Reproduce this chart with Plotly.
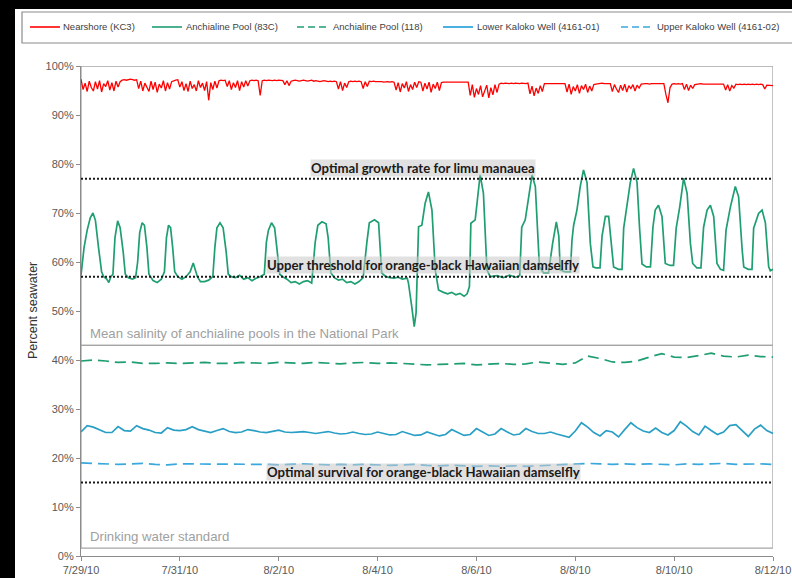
import pandas as pd
import plotly.graph_objects as go

# ---------------- data ----------------
START = pd.Timestamp("2010-07-29")

# Nearshore (KC3), hourly readings, % seawater
nearshore = [
    # 7/29
    97.3, 95.2, 96.5, 94.8, 96.9, 95.6, 94.9, 96.8, 95.3, 97.0, 94.7, 96.4,
    95.8, 97.0, 95.1, 96.6, 94.9, 96.9, 95.7, 96.8, 97.1,
    97.2, 97.1, 97.2, 97.3, 97.2, 97.1, 97.2,
    95.4, 96.9, 94.9, 96.5, 95.6, 94.8, 96.9, 95.2, 96.7, 94.6, 96.3, 95.5,
    97.0, 94.9, 96.6, 95.3, 96.8, 97.0,
    97.1, 97.2,
    # 7/31
    95.7, 96.8, 95.0, 96.4, 94.8, 96.9, 95.4, 96.2, 94.9, 97.0, 95.6, 96.5,
    95.0, 96.8, 93.0, 96.6, 95.2, 96.9, 95.5, 97.0,
    97.1, 97.0, 97.1,
    95.8, 97.0, 95.2, 96.6, 95.6, 97.0, 95.0, 96.8, 95.7, 97.0, 95.9, 97.0,
    97.1, 97.0, 97.1, 97.0,
    94.0,
    97.0, 97.1, 97.0, 97.1, 97.0, 97.0, 97.1, 97.0, 97.1, 97.0, 97.0,
    96.2, 97.0, 96.0, 96.9,
    97.0, 97.1, 97.0, 96.9, 97.0, 97.1, 97.0, 96.9, 97.0, 97.1, 96.9, 97.0,
    96.9, 96.8, 96.9, 97.0, 96.9, 96.8, 96.9, 96.8, 96.9, 96.8,
    95.3, 96.8, 95.0, 96.5, 95.6, 96.8,
    96.9, 96.8, 96.9, 96.8, 96.9, 96.8,
    95.4, 96.8, 95.8, 96.9,
    96.8, 96.9, 96.8, 96.8, 96.9, 96.8, 96.7, 96.8, 96.8, 96.7, 96.8, 96.7,
    95.1, 96.6, 94.7, 96.4, 95.5, 96.8, 94.8, 96.2, 95.2, 96.7, 95.6, 96.8,
    96.7, 94.9, 96.5, 95.3, 96.7, 94.6, 96.3, 95.4, 96.7, 95.0, 96.6, 96.7,
    96.7, 96.6, 96.7, 96.6, 96.6, 96.7, 96.6, 96.6, 96.7, 96.6, 96.6, 96.7,
    94.0, 96.2, 93.6, 95.4, 94.2, 96.0, 93.7, 94.8, 96.1, 93.5, 95.6, 94.1,
    96.2, 94.6, 96.3,
    96.5, 96.4, 96.5, 96.4, 96.4, 96.5, 96.4, 96.5, 96.4, 96.4, 96.5, 96.4,
    96.4, 96.5,
    94.3, 95.9, 93.9, 95.5, 94.4, 96.0, 94.8,
    96.4, 96.4, 96.5, 96.4, 96.4, 96.5, 96.4, 96.4, 96.5, 96.4, 96.4,
    94.7, 96.3, 94.2, 95.8, 94.9, 96.2, 94.4, 96.0, 95.2, 96.3, 94.6, 95.9,
    94.9, 96.2, 96.3,
    96.4, 96.4, 96.5, 96.4, 96.4, 96.5, 96.4,
    94.8, 96.2, 95.3, 94.6, 96.1, 95.0, 96.3, 94.7, 96.0, 95.4, 96.2, 94.9,
    96.1, 95.5, 96.3, 96.4,
    96.4, 96.4, 96.3, 96.4, 96.4, 96.3, 96.4, 96.4, 96.3, 96.4,
    94.2, 92.5, 95.6,
    96.3, 96.4, 96.3, 96.4, 96.3, 96.4,
    95.2, 96.3, 95.0, 96.1, 95.4, 96.2, 96.3,
    96.3, 96.4, 96.3, 96.3, 96.4, 96.3, 96.3, 96.4, 96.3, 96.3, 96.4, 96.3,
    96.3,
    95.1, 96.2, 94.9, 96.0, 95.5,
    96.3, 96.2, 96.3, 96.2, 96.3, 96.2, 96.3, 96.2, 96.3, 96.2, 96.3, 96.2,
    96.3, 96.2,
    95.3, 96.1,
    96.1, 96.0, 96.0,
]

# Anchialine Pool (83C): hours since 7/29/10 00:00 and % seawater
pool83c_hours = [
    0, 1.5, 3, 4.5, 5.8, 7, 8.5, 10, 11, 12.5, 13.5, 14.5, 15.5, 16.5, 17.8, 19,
    20.5, 21.5, 23, 25, 26.5, 27.5, 28.5, 29.7, 30.8, 32, 33, 35, 37, 39, 40.5,
    41.5, 42.5, 43.5, 44.5, 45.5, 47, 49, 51, 53, 54.5, 55.5, 56.5, 58, 60, 62,
    64, 65, 66, 67.5, 69, 70.5, 71.5, 73, 75, 77, 79, 81, 83, 85, 87, 89, 90,
    91, 92.5, 94, 95.5, 96.5, 98, 100, 102, 104, 106, 108, 110, 112, 113.7, 115,
    117, 119, 120, 121.3, 123, 125, 127, 129, 131, 133, 135, 137, 138.8, 140,
    142.5, 144.5, 146, 148, 150, 152, 154, 156, 158.4, 159, 160.6, 161.8, 162.7,
    163.9, 165.5, 167.1, 168.7, 170.4, 172, 173.6, 176, 178, 180, 182, 184, 186,
    187.5, 188.6, 189.3, 191.4, 193.8, 195.4, 197.1, 198.7, 202, 205, 208, 211,
    213, 214, 215.7, 219, 220.6, 222.6, 224.6, 227, 229, 230.8, 232, 232.7, 235,
    237.6, 238.4, 239.2, 240.8, 242.4, 244, 245.7, 247.3, 248.6, 250, 252, 253,
    254.6, 256.2, 257.5, 258.6, 261, 262.7, 263.5, 265.1, 266.7, 268.3, 270,
    271.2, 272.4, 274.5, 276.5, 277.7, 278.8, 280.4, 282.1, 283.7, 286, 287.7,
    289, 290.7, 292.6, 294.3, 295.9, 297, 299, 301, 302.3, 304, 305.6, 307.2,
    308.8, 310.5, 312, 313.2, 315.3, 317.7, 319.3, 321, 321.8, 324, 325.8, 326.6,
    329, 330.7, 332.3, 333.9, 334.7, 336,
]
pool83c = [
    57.3, 63, 66.5, 69, 70, 68.5, 63, 58, 57, 56.5, 55.8, 57, 57.5, 65, 68.4, 67,
    62, 57.5, 56.8, 56.5, 56.8, 60, 66, 68, 67.5, 63, 57.5, 56.2, 55.8, 56.5, 58,
    65, 67.5, 67, 63, 58, 57, 56.5, 57, 58, 59.8, 58.5, 57, 56, 56, 56.3,
    57, 63, 67, 68, 67, 62, 57.5, 57, 56.8, 57.3, 56.5, 56.8, 56.2, 56.7, 57, 57.5, 64,
    66.5, 68, 67, 62, 57.5, 57, 56.5, 55.8, 56, 55.5, 56, 56.2, 55.7, 64, 67.5,
    68.2, 67.8, 65, 57.8, 56.8, 56.3, 56.5, 55.8, 56, 55.5, 56, 56.8, 64, 68,
    68.6, 68, 57.8, 57, 56.8, 56.7, 56.9, 56.5, 56.7, 55.7, 50.9, 46.8, 49.6,
    67.2, 67.5, 72, 74.3, 70.6, 58.4, 54.3, 53.8, 53.5, 53.8, 53.3, 53.6, 53.0,
    53.5, 55, 67.9, 68.6, 77.8, 74, 58.4, 57, 57.2, 56.8, 57.3, 56.9,
    57.2, 67.1, 68.6, 77.8, 75.4, 59, 57.8, 57.8, 63.8, 68.2, 65.3, 58.4, 58,
    58, 64.5, 67.5, 70.6, 75.4, 78.8, 76.2, 63.8, 59, 58.8, 58.8, 65.3,
    69.3, 69.3, 63.8, 59, 58.5, 58.5, 66.9, 72, 76.2, 79.1, 76.2,
    67, 59.6, 59, 59, 67.1, 70.6, 71.6, 69.3, 59.7, 59.3, 59.3,
    66.9, 71.2, 77.1, 74, 63.8, 59.7, 58.8, 58.8, 67.1, 70.6, 71.6, 69.3,
    59.7, 58.5, 58.3, 66.5, 71.2, 75.4, 73.3, 62.6, 59, 58.5, 58.5, 66.9,
    69.9, 70.6, 68, 59, 58.2, 58.5,
]

# Anchialine Pool (118), 6-hourly
pool118 = [
    39.8, 40.0, 39.8, 39.5, 39.6, 39.3, 39.3, 39.4, 39.3, 39.4,
    39.5, 39.3, 39.3, 39.5, 39.4, 39.3, 39.5, 39.4, 39.3, 39.5,
    39.4, 39.2, 39.4, 39.5, 39.3, 39.4, 39.3, 39.2, 39.0, 39.1,
    39.2, 39.3, 39.0, 39.1, 39.3, 39.1, 39.2, 39.6, 39.3, 39.1,
    39.4, 40.8, 40.3, 39.6, 39.5, 39.8, 40.6, 41.3, 40.6, 40.5,
    40.9, 41.4, 40.8, 40.6, 41.0, 40.7, 40.6,
]

# Lower Kaloko Well (4161-01), 3-hourly
lower_well = [
    25.3, 26.6, 26.3, 25.8, 25.2, 25.2, 26.4, 25.6, 25.5, 26.6,
    26.0, 25.7, 25.2, 25.1, 26.2, 25.7, 25.6, 25.8, 26.4, 25.8,
    25.5, 25.2, 25.6, 26.0, 25.4, 25.2, 25.3, 25.8, 25.6, 25.3,
    25.2, 25.5, 25.7, 25.3, 25.2, 25.3, 25.4, 25.2, 25.0, 25.2,
    25.4, 25.1, 24.9, 25.0, 25.3, 25.0, 24.8, 24.9, 25.3, 25.0,
    24.7, 24.8, 25.4, 25.0, 24.6, 24.7, 25.3, 24.9, 24.5, 24.8,
    25.8, 25.2, 24.6, 24.8, 26.0, 25.3, 24.6, 24.9, 26.0, 25.3,
    24.7, 24.9, 26.0, 25.4, 25.0, 25.0, 25.3, 24.9, 24.6, 24.2,
    25.5, 27.2, 26.3, 25.2, 24.5, 25.6, 25.3, 24.3, 25.8, 27.2,
    26.2, 25.5, 25.2, 26.1, 25.2, 24.7, 25.6, 27.4, 26.5, 25.4,
    24.7, 26.5, 25.6, 24.8, 25.3, 26.6, 26.8, 25.6, 24.4, 25.9,
    26.7, 25.6, 25.0,
]

# Upper Kaloko Well (4161-02), 6-hourly
upper_well = [
    19.0, 18.9, 18.8, 18.7, 18.8, 18.9, 18.7, 18.6, 18.8, 18.8, 18.7,
    18.8, 18.7, 18.7, 18.8, 18.7, 18.6, 18.7, 18.8, 18.7, 18.6,
    18.7, 18.6, 18.7, 18.6, 18.5, 18.6, 18.7, 18.5, 18.4, 18.5,
    18.4, 18.3, 18.4, 18.3, 18.4, 18.3, 18.4, 18.5, 18.6, 18.8,
    18.9, 18.8, 18.7, 18.8, 18.7, 18.8, 18.7, 18.6, 18.8, 18.7,
    18.8, 18.9, 18.7, 18.8, 18.8, 18.7,
]

# reference levels (% seawater)
limu_optimum = 77
damselfly_upper = 57
damselfly_survival = 15
# outlines of the two reference zones (% seawater)
pool_zone = (43, 100)
drinking_zone = (1.6, 43)

y_ticks = list(range(0, 101, 10))
y_tick_text = [f"{v}%" for v in y_ticks]
tick_dates = pd.date_range("2010-07-29", "2010-08-12", freq="2D")
x_end = pd.Timestamp("2010-08-12")

# ---------------- styling ----------------
RED = "#FF0000"
GREEN = "#1F9E70"
BLUE = "#1E9BD7"
BLUE_LINE = "#2A9FC6"
BLUE_LIGHT = "#3AA8DC"
DASH = "11px,6px"

W, H = 792, 578
ML, MR, MT, MB = 81, 19, 66, 22
PW, PH = W - ML - MR, H - MT - MB


def px(x):
    return (x - ML) / PW


def py(y):
    return (H - MB - y) / PH


def series_times(n, step_h):
    return [START + pd.Timedelta(hours=step_h * i) for i in range(n)]


fig = go.Figure()

fig.add_trace(go.Scatter(
    x=series_times(len(nearshore), 1), y=nearshore, mode="lines",
    name="Nearshore (KC3)", line=dict(color=RED, width=1.3)))
fig.add_trace(go.Scatter(
    x=[START + pd.Timedelta(hours=h) for h in pool83c_hours], y=pool83c,
    mode="lines", name="Anchialine Pool (83C)",
    line=dict(color=GREEN, width=1.7)))
fig.add_trace(go.Scatter(
    x=series_times(len(pool118), 6), y=pool118, mode="lines",
    name="Anchialine Pool (118)",
    line=dict(color=GREEN, width=1.7, dash=DASH)))
fig.add_trace(go.Scatter(
    x=series_times(len(lower_well), 3), y=lower_well, mode="lines",
    name="Lower Kaloko Well (4161-01)",
    line=dict(color=BLUE_LINE, width=1.7)))
fig.add_trace(go.Scatter(
    x=series_times(len(upper_well), 6), y=upper_well, mode="lines",
    name="Upper Kaloko Well (4161-02)",
    line=dict(color=BLUE_LIGHT, width=1.7, dash=DASH)))

shapes = []
# white slide panel over the black background
shapes.append(dict(type="rect", xref="paper", yref="paper", layer="below",
                   x0=px(15), x1=px(800), y0=py(H + 5), y1=py(9),
                   fillcolor="white", line=dict(width=0)))
# zone outlines
for lo, hi in (pool_zone, drinking_zone):
    shapes.append(dict(type="rect", xref="x", yref="y", layer="below",
                       x0=START, x1=x_end, y0=lo, y1=hi,
                       line=dict(color="#A6A6A6", width=1.3)))
# threshold lines
for lvl in (limu_optimum, damselfly_upper, damselfly_survival):
    shapes.append(dict(type="line", xref="x", yref="y", layer="above",
                       x0=START, x1=x_end, y0=lvl, y1=lvl,
                       line=dict(color="#1A1A1A", width=2, dash="2px,2px")))

# legend frame and samples
LEG_Y = 27
shapes.append(dict(type="rect", xref="paper", yref="paper",
                   x0=px(22), x1=px(805), y0=py(43), y1=py(12),
                   line=dict(color="#8C8C8C", width=1.2),
                   fillcolor="white", layer="below"))
legend_items = [
    ("Nearshore (KC3)", RED, None, 30, 60, 61),
    ("Anchialine Pool (83C)", GREEN, None, 152, 182, 184),
    ("Anchialine Pool (118)", GREEN, DASH, 297, 327, 331),
    ("Lower Kaloko Well (4161-01)", BLUE, None, 443, 473, 475),
    ("Upper Kaloko Well (4161-02)", BLUE_LIGHT, DASH, 621, 651, 655),
]
annotations = []
LEG_FONT = dict(family="Liberation Sans, Arial, sans-serif", size=9.5, color="#404040")
for label, col, dash, x0, x1, xt in legend_items:
    ln = dict(color=col, width=1.6)
    if dash:
        ln["dash"] = "7px,4px"
    shapes.append(dict(type="line", xref="paper", yref="paper",
                       x0=px(x0), x1=px(x1), y0=py(LEG_Y), y1=py(LEG_Y), line=ln))
    annotations.append(dict(text=label, xref="paper", yref="paper",
                            x=px(xt), y=py(LEG_Y), xanchor="left", yanchor="middle",
                            showarrow=False, font=LEG_FONT))

# threshold labels
BOLD = dict(family="Lato, Open Sans, sans-serif", size=13.2, color="#1A1A1A")
for txt, lvl, shift in (
    ("<b>Optimal growth rate for limu manauea</b>", limu_optimum, 11),
    ("<b>Upper threshold for orange-black Hawaiian damselfly</b>", damselfly_upper, 12),
    ("<b>Optimal survival for orange-black Hawaiian damselfly</b>", damselfly_survival, 11),
):
    annotations.append(dict(text=txt, xref="paper", yref="y", x=px(423), y=lvl,
                            xanchor="center", yanchor="middle",
                            yshift=shift, showarrow=False, font=BOLD,
                            bgcolor="rgba(200,200,200,0.55)", borderpad=0))

# zone captions
GRAY = dict(family="Liberation Sans, Arial, sans-serif", size=13.2, color="#A0A0A0")
annotations.append(dict(text="Mean salinity of anchialine pools in the National Park",
                        xref="paper", yref="y", x=px(88), y=pool_zone[0], yshift=12,
                        xanchor="left", yanchor="middle", showarrow=False, font=GRAY))
annotations.append(dict(text="Drinking water standard",
                        xref="paper", yref="y", x=px(88), y=drinking_zone[0], yshift=12,
                        xanchor="left", yanchor="middle", showarrow=False, font=GRAY))
# axis title
annotations.append(dict(text="Percent seawater", xref="paper", yref="paper",
                        x=px(33), y=0.5, xanchor="center", yanchor="middle",
                        textangle=-90, showarrow=False,
                        font=dict(family="Liberation Sans, Arial, sans-serif",
                                  size=12.5, color="#333333")))

TICK_FONT = dict(family="Liberation Sans, Arial, sans-serif", size=11, color="#595959")
fig.update_layout(
    width=W, height=H,
    margin=dict(l=ML, r=MR, t=MT, b=MB, pad=0, autoexpand=False),
    paper_bgcolor="black",
    plot_bgcolor="rgba(0,0,0,0)",
    showlegend=False,
    shapes=shapes,
    annotations=annotations,
    xaxis=dict(range=[START, x_end], tickvals=tick_dates, tickformat="%-m/%-d/%y",
               automargin=False,
               showgrid=False, zeroline=False, showline=True,
               linecolor="#8C8C8C", linewidth=1.2, ticks="outside", ticklen=4,
               tickcolor="#8C8C8C", tickfont=TICK_FONT),
    yaxis=dict(range=[0, 100], tickmode="array", tickvals=y_ticks, ticktext=y_tick_text,
               automargin=False,
               showgrid=False, zeroline=False, showline=True,
               linecolor="#8C8C8C", linewidth=1.2, ticks="outside", ticklen=4,
               tickcolor="#8C8C8C", tickfont=TICK_FONT),
)

fig.write_html("out.html")
